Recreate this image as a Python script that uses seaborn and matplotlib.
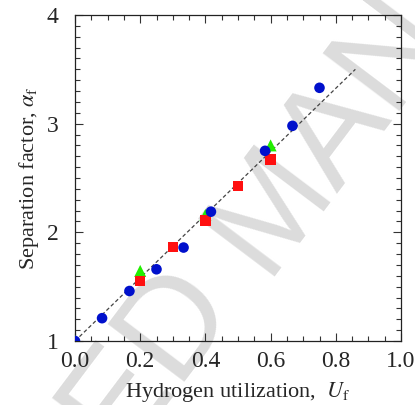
import matplotlib
matplotlib.use("Agg")
import matplotlib.pyplot as plt
import seaborn as sns
import pandas as pd
import numpy as np
from matplotlib.ticker import MultipleLocator

# data
blue_u = [0.0, 0.083, 0.167, 0.25, 0.333, 0.417, 0.583, 0.667, 0.75]
blue_alpha = [1.0, 1.21, 1.46, 1.66, 1.86, 2.19, 2.75, 2.98, 3.33]
red_u = [0.2, 0.3, 0.4, 0.5, 0.6]
red_alpha = [1.55, 1.865, 2.11, 2.425, 2.67]
green_u = [0.0, 0.2, 0.4, 0.6]
green_alpha = [1.0, 1.645, 2.16, 2.80]
line_u = [0.0, 0.86]
line_alpha = [1.0, 3.50]
x_ticks = [0.0, 0.2, 0.4, 0.6, 0.8, 1.0]
y_ticks = [1, 2, 3, 4]

sns.set_style("ticks")
plt.rcParams["font.family"] = ["Liberation Serif", "DejaVu Serif"]
plt.rcParams["mathtext.fontset"] = "stix"

W, H = 415, 405
fig = plt.figure(figsize=(W/100, H/100), dpi=100)
ax = fig.add_axes([75/W, 1-341/H, 326/W, 326/H])
ax.set_zorder(2)
ax.patch.set_alpha(0)

# watermark
rot = 53
fs = 100
th = np.deg2rad(rot)
ax_px, ay_px = 264, 276
gap = 0.30 * fs * 100 / 72
bx_px = ax_px - gap * np.cos(th)
by_px = ay_px + gap * np.sin(th)
wm = dict(rotation=rot, rotation_mode="anchor", color="#dcdcdc", fontsize=fs,
          fontfamily="Liberation Sans", va="baseline", zorder=0)
fig.text(ax_px/W, 1-ay_px/H, "MANUSCRIPT", ha="left", **wm)
fig.text(bx_px/W, 1-by_px/H, "ACCEPTED", ha="right", **wm)

sns.lineplot(x=line_u, y=line_alpha, ax=ax, color="#444444", lw=0.9,
             linestyle=(0, (3, 2)), zorder=2)
sns.scatterplot(x=green_u, y=green_alpha, ax=ax, marker="^", s=75,
                color="#22ee00", edgecolor="none", zorder=3)
sns.scatterplot(x=red_u, y=red_alpha, ax=ax, marker="s", s=55,
                color="#ff1010", edgecolor="none", zorder=4)
sns.scatterplot(x=blue_u, y=blue_alpha, ax=ax, marker="o", s=58,
                color="#0010cc", edgecolor="none", zorder=5)

ax.set_xlim(0, 1.0)
ax.set_ylim(1, 4)
ax.set_xticks(x_ticks)
ax.set_xticklabels([f"{v:.1f}" for v in x_ticks])
ax.set_yticks(y_ticks)
ax.set_yticklabels([str(v) for v in y_ticks])
ax.xaxis.set_minor_locator(MultipleLocator(0.05))
ax.yaxis.set_minor_locator(MultipleLocator(0.1))
ax.tick_params(which="both", direction="in", top=True, right=True,
               labelsize=17, color="#333333")
ax.tick_params(which="major", length=6, width=0.8)
ax.tick_params(which="minor", length=3.5, width=0.8)
ax.tick_params(axis="x", which="major", pad=7)
ax.tick_params(axis="y", which="major", pad=12)
for s in ax.spines.values():
    s.set_linewidth(0.9)
    s.set_color("#222222")

ax.set_xlabel(r"Hydrogen utilization,  $U_\mathrm{f}$", fontsize=16, labelpad=6)
ax.set_ylabel(r"Separation factor, $\alpha_\mathrm{f}$", fontsize=16, labelpad=4)

fig.savefig("out.png", dpi=100)
